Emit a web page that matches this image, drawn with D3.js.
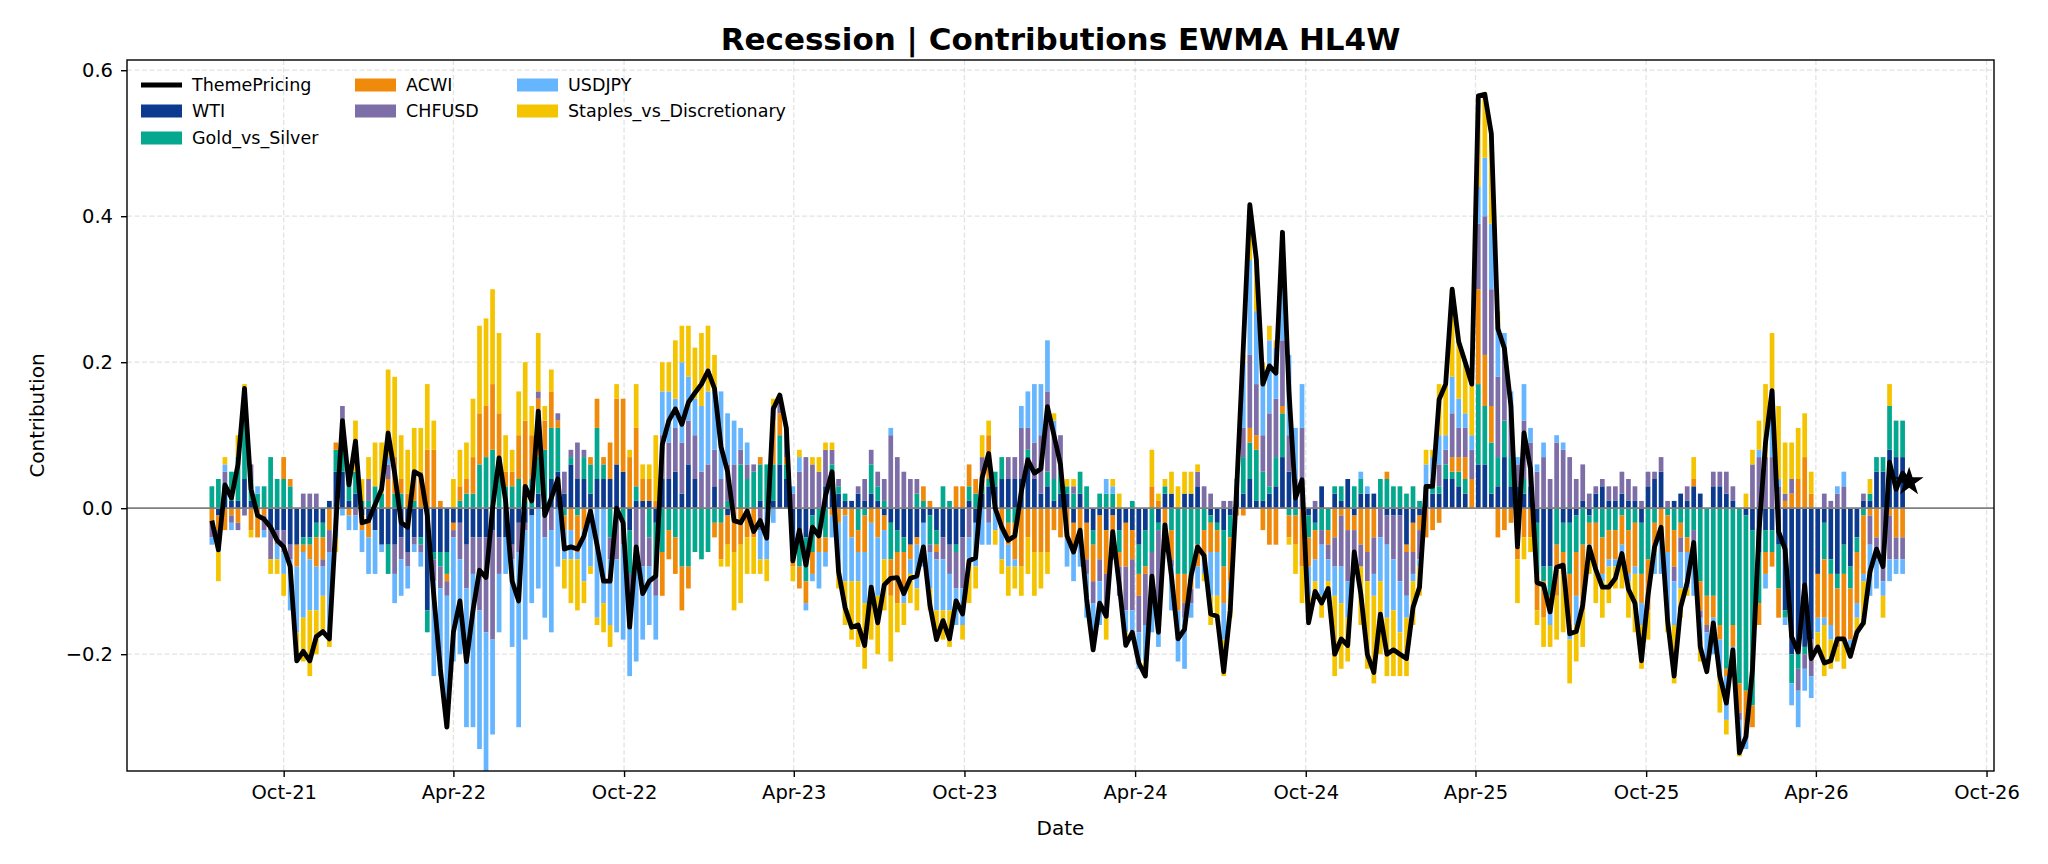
<!DOCTYPE html>
<html>
<head>
<meta charset="utf-8">
<script src="https://cdn.jsdelivr.net/npm/d3@7"></script>
<style>
  body { margin: 0; background: #fff; }
  svg { display: block; font-family: "DejaVu Sans", sans-serif; }
</style>
</head>
<body>
<div id="chart"></div>
<script>
// weekly observations, first one on this Friday
const startDate = "2021-07-16";

const seriesNames = ["WTI", "Gold_vs_Silver", "ACWI", "CHFUSD", "USDJPY", "Staples_vs_Discretionary"];
const seriesColors = ["#0c3a8e", "#04a88e", "#f08a0b", "#7e6ea8", "#66b5ff", "#f5c400"];

const tickMonths = ["2021-10-01", "2022-04-01", "2022-10-01", "2023-04-01", "2023-10-01", "2024-04-01",
  "2024-10-01", "2025-04-01", "2025-10-01", "2026-04-01", "2026-10-01"];
const yTicks = [-0.2, 0.0, 0.2, 0.4, 0.6];

const wti = [
  0, -0.01, 0.02, 0.01, 0.01, 0.04, 0.01, 0, 0, -0.03,
  -0.03, -0.03, -0.05, -0.05, -0.04, -0.04, -0.02, -0.02, 0.01, 0.05,
  0.05, 0.01, 0.02, -0.01, -0.02, -0.03, -0.05, -0.05, -0.05, -0.04,
  -0.06, -0.04, -0.04, -0.14, -0.06, -0.06, -0.06, -0.02, -0.02, -0.05,
  -0.04, -0.04, -0.04, -0.03, -0.04, -0.04, -0.05, -0.02, -0.02, -0.01,
  0.02, 0, 0.04, 0.05, 0.02, 0.06, 0.04, 0.04, 0.02, 0.04,
  0.04, 0.04, 0.06, 0.05, -0.03, 0.01, 0.01, 0.01, -0.02, 0.04,
  0.04, 0.05, 0.02, 0.06, 0.04, 0, 0, 0.03, 0, -0.01,
  0, 0, 0, 0, 0.01, 0, 0.01, 0.06, 0.04, -0.06,
  -0.04, -0.04, -0.01, 0, 0.03, 0.05, 0.02, 0.01, 0.01, 0.02,
  0.01, 0.02, 0.01, -0.01, -0.02, -0.03, -0.04, -0.05, -0.04, -0.02,
  -0.01, -0.03, -0.04, -0.05, -0.05, -0.04, 0.01, -0.02, 0.02, 0.03,
  0.03, 0.04, 0.04, 0.04, 0.04, 0.07, 0.04, 0.02, 0.03, 0.01,
  0.02, 0.02, -0.02, 0.02, -0.02, -0.03, -0.01, -0.03, -0.01, -0.03,
  -0.02, -0.03, -0.05, -0.03, 0, -0.02, 0.02, 0.02, 0, 0.02,
  0.02, 0.03, 0, -0.01, -0.02, -0.03, -0.01, 0.03, 0.02, 0.04,
  0.01, 0.01, 0.02, 0.03, 0.07, 0.05, 0.02, 0, -0.01, -0.02,
  0.03, 0, 0.02, 0.01, 0.04, -0.01, 0.02, 0.02, 0.02, 0,
  -0.01, -0.01, -0.01, -0.05, -0.02, -0.01, 0.03, 0.02, 0.02, 0.04,
  0.04, 0.03, 0.02, 0, 0.06, 0.06, 0.02, 0.03, 0.07, 0.03,
  0.03, 0.02, 0.03, -0.02, -0.08, -0.08, 0, -0.02, -0.02, -0.01,
  0.01, -0.01, 0.02, 0.03, 0.01, 0.01, 0.02, 0.01, 0.01, -0.02,
  0.03, 0.04, 0.05, 0, 0.01, 0.02, 0.01, 0.03, 0.02, 0,
  0.03, 0.03, 0.02, 0.01, 0, -0.01, -0.03, -0.06, -0.03, -0.03,
  -0.05, -0.14, -0.20, -0.20, -0.19, -0.18, -0.09, -0.02, -0.07, -0.09,
  -0.05, -0.08, -0.04, 0.01, 0.01, 0.05, 0.05, 0.08, 0.07, 0.07
];

const goldSilver = [
  0.03, 0.04, 0.01, 0.04, 0.06, 0.12, 0.03, 0.02, 0.03, 0.07,
  0.04, 0.04, 0.03, 0, -0.01, -0.01, -0.02, -0.02, 0, 0.03,
  0.05, 0.05, 0.03, 0.01, 0.01, 0.03, 0.02, -0.04, 0.02, 0.02,
  0, 0.01, -0.01, -0.03, -0.01, -0.02, -0.03, 0, 0.01, 0.02,
  0.02, 0.06, 0.07, 0.08, 0.07, 0.03, 0.03, 0.04, 0.01, 0.04,
  0.05, 0.08, 0.07, 0.06, -0.01, 0.01, -0.01, 0.03, 0.04, 0.07,
  0.02, -0.04, 0, -0.03, -0.06, 0.02, 0, -0.04, -0.06, -0.06,
  -0.03, -0.04, -0.08, -0.08, -0.06, -0.07, -0.06, -0.02, -0.02, 0.01,
  0, 0.06, 0.04, 0.05, 0.05, 0.06, 0.05, 0.04, 0.02, 0,
  -0.04, -0.06, -0.05, -0.04, -0.04, 0.01, 0.01, 0.01, 0, -0.03,
  -0.01, 0.04, 0.02, 0.01, -0.05, -0.03, -0.02, 0, 0.02, 0.01,
  -0.04, -0.02, 0.03, 0.01, -0.01, 0, 0.02, 0.02, 0.01, 0.01,
  0.02, 0.03, -0.02, -0.02, 0, 0.01, 0, 0, 0.02, 0.03,
  0.03, 0.01, 0.02, 0.03, 0.03, -0.02, 0.02, 0.02, 0.02, -0.03,
  0, 0.01, -0.04, -0.05, -0.06, -0.01, 0.01, -0.03, -0.09, -0.09,
  -0.09, -0.05, -0.03, -0.01, -0.01, -0.05, -0.03, 0.01, 0.05, 0.05,
  0.07, 0.04, 0.01, 0.04, 0.06, -0.01, -0.01, 0, -0.03, -0.01,
  -0.03, -0.03, 0.01, 0.02, 0, 0.03, 0.02, 0, 0, 0.04,
  0.04, 0.03, 0.03, 0.02, 0.03, 0.01, 0, 0.01, 0.01, 0.02,
  0.01, 0.02, 0.02, 0, 0.11, 0.08, 0.07, 0.04, 0.05, 0.04,
  0, 0.02, 0, -0.07, -0.02, -0.04, -0.05, -0.04, -0.07, -0.05,
  -0.05, -0.01, -0.02, -0.04, -0.03, -0.03, -0.01, -0.03, -0.02, -0.07,
  -0.07, -0.02, 0, -0.01, -0.03, -0.02, -0.04, -0.03, -0.10, -0.12,
  -0.12, -0.16, -0.22, -0.16, -0.24, -0.24, -0.24, -0.07, -0.03, -0.03,
  -0.06, -0.01, -0.04, -0.02, -0.01, 0, 0, -0.05, -0.02, -0.02,
  -0.04, -0.03, -0.02, -0.01, 0.01, 0.02, 0.02, 0.06, 0.05, 0.05
];

const acwi = [
  -0.02, -0.02, -0.03, -0.01, -0.02, 0, -0.03, -0.04, -0.01, 0,
  0, 0.03, 0.01, -0.03, -0.01, -0.02, -0.04, -0.03, -0.03, 0.01,
  0.02, -0.01, 0, -0.02, -0.02, 0, 0, 0.04, 0.05, 0.02,
  0.02, 0.04, 0.05, 0.08, 0.08, 0.01, -0.01, -0.01, 0.02, 0.02,
  0.05, 0.07, 0.07, 0.09, 0.06, 0.02, 0.02, 0.06, 0.11, 0.06,
  0.08, 0.04, 0.05, 0.01, -0.02, -0.03, -0.05, -0.03, 0.01, 0.04,
  0.01, 0.05, 0.09, 0.10, 0.07, 0.08, 0.03, 0.03, 0.01, -0.06,
  -0.04, -0.05, -0.06, -0.03, 0, 0, 0, -0.02, -0.05, -0.04,
  -0.06, -0.05, -0.04, -0.04, 0.01, 0, 0.06, 0.03, 0.01, -0.02,
  -0.03, -0.03, -0.03, -0.02, -0.02, -0.01, -0.02, -0.01, -0.04, -0.03,
  -0.05, -0.02, -0.04, -0.02, -0.05, -0.07, -0.05, -0.02, -0.01, 0.02,
  0.01, -0.01, 0, 0, 0.03, 0.03, 0.03, 0.02, 0.02, 0.06,
  0, -0.03, -0.03, -0.05, -0.08, -0.04, -0.06, -0.06, -0.06, -0.03,
  -0.04, -0.04, -0.04, -0.05, -0.05, -0.05, -0.06, -0.06, -0.04, -0.02,
  -0.06, -0.04, -0.03, -0.01, 0.03, 0.01, -0.02, -0.04, -0.05, -0.04,
  -0.02, -0.03, -0.04, -0.04, -0.03, -0.05, -0.06, -0.01, -0.01, 0.02,
  0.02, -0.03, -0.05, -0.05, 0.01, -0.03, -0.04, -0.08, -0.04, -0.04,
  0, -0.02, -0.04, -0.01, -0.03, -0.02, -0.05, -0.06, -0.04, 0,
  0.01, 0, 0, -0.01, -0.04, -0.02, -0.04, -0.03, -0.02, 0,
  0.02, 0.02, 0.03, 0.04, 0.13, 0.07, 0.05, -0.04, -0.03, -0.02,
  -0.07, -0.04, -0.04, -0.05, -0.05, -0.02, -0.07, -0.03, -0.08, -0.06,
  -0.09, -0.03, -0.06, -0.05, -0.04, -0.04, -0.04, -0.06, -0.06, -0.04,
  -0.07, -0.04, -0.03, -0.05, -0.05, -0.02, -0.02, 0.01, -0.04, -0.04,
  -0.03, -0.02, -0.01, -0.03, -0.04, -0.06, -0.03, -0.03, -0.03, -0.02,
  -0.04, 0.01, 0.02, 0.04, 0.07, 0.02, -0.06, -0.08, -0.07, -0.08,
  -0.09, -0.07, -0.07, -0.08, -0.01, -0.04, 0, -0.01, -0.04, -0.04
];

const chfusd = [
  -0.02, -0.02, 0.02, -0.01, -0.01, -0.01, 0.02, 0, -0.02, -0.04,
  -0.02, -0.03, -0.02, 0, 0.02, 0.02, 0.02, -0.01, -0.03, -0.03,
  0.02, 0, -0.01, 0, 0.03, 0, 0, 0.02, -0.04, -0.03,
  -0.02, -0.01, -0.01, 0, -0.03, -0.03, -0.02, -0.01, -0.05, -0.06,
  -0.05, -0.10, -0.13, -0.15, -0.05, 0, -0.02, -0.04, -0.01, 0,
  0.01, -0.04, -0.03, 0.01, 0.03, 0.01, 0.05, 0.01, -0.01, 0,
  0, -0.03, -0.07, -0.02, -0.06, -0.08, -0.08, -0.04, -0.04, 0.06,
  0.05, 0.06, 0.07, 0.06, 0.06, 0.05, 0.06, 0.05, 0.04, 0.05,
  0.06, 0.02, 0.02, 0.01, -0.03, 0, 0.02, 0.02, 0.03, 0.02,
  0.05, 0.07, 0.06, 0.05, 0.05, 0.02, 0.01, 0, 0, 0.01,
  0.03, 0.02, 0.02, 0.03, 0.10, 0.07, 0.05, 0.04, 0.02, 0,
  -0.01, -0.01, -0.03, -0.04, -0.05, -0.07, -0.04, 0, 0.02, -0.02,
  0, 0, 0.03, 0.03, 0.07, 0.03, 0.05, 0.08, 0.11, 0.06,
  0.05, 0, 0.01, 0, -0.02, -0.03, -0.03, -0.06, -0.02, -0.04,
  -0.06, -0.07, -0.05, -0.07, -0.04, -0.11, -0.04, -0.01, 0, -0.02,
  -0.02, 0.02, 0.03, 0.02, 0, 0.01, 0.01, 0, 0.04, 0.10,
  0.07, 0.05, 0.10, 0.08, 0.09, 0.05, 0.02, 0.11, 0, 0.01,
  -0.02, -0.02, -0.04, -0.07, -0.07, -0.05, -0.03, -0.04, -0.05, -0.04,
  -0.04, -0.06, -0.09, -0.06, -0.03, -0.04, 0, 0.01, 0.03, 0.02,
  0.06, 0.04, 0.04, 0.04, 0.09, 0.19, 0.16, 0.11, 0.10, 0.06,
  0.03, 0.08, 0.06, 0.05, 0.07, 0.04, 0.09, 0.08, 0.07, 0.04,
  0.05, 0.02, 0.01, 0.01, 0.02, 0.02, 0.03, 0.03, 0.02, 0.01,
  0.02, 0.01, 0.02, 0.01, -0.02, -0.02, 0.02, -0.02, -0.01, -0.01,
  0.02, 0.02, 0.03, 0.02, -0.01, 0, 0.06, 0.07, 0.07, 0.07,
  0.03, 0.01, 0.02, -0.03, -0.02, -0.05, 0, 0.02, 0.01, 0.02,
  0.03, 0, 0, 0.01, -0.04, -0.03, -0.10, -0.06, -0.03, -0.03
];

const usdjpy = [
  -0.01, -0.01, 0.01, -0.01, 0, 0, 0, 0.01, -0.01, 0,
  -0.02, -0.03, -0.07, -0.09, -0.09, -0.07, -0.06, -0.04, -0.12, -0.01,
  -0.01, -0.02, -0.02, -0.03, -0.05, -0.06, -0.01, 0.01, -0.04, -0.05,
  -0.03, -0.01, -0.02, 0, -0.13, -0.12, -0.17, -0.17, -0.13, -0.19,
  -0.21, -0.19, -0.19, -0.13, -0.08, -0.05, -0.12, -0.24, -0.15, -0.12,
  -0.11, -0.11, -0.14, -0.08, -0.04, -0.04, -0.01, -0.07, -0.07, -0.15,
  -0.13, -0.09, -0.10, -0.13, -0.08, -0.13, -0.10, -0.08, -0.06, 0.06,
  0.07, 0.04, 0.11, 0.06, 0.05, 0.09, 0.10, 0.08, 0.12, 0.07,
  0.06, 0.03, 0.03, 0, -0.04, -0.07, -0.02, 0, 0.01, 0.01,
  0.02, -0.01, -0.01, -0.05, -0.02, -0.03, -0.06, -0.09, -0.06, -0.04,
  -0.07, -0.11, -0.08, -0.04, 0.01, 0, -0.02, -0.02, -0.06, -0.06,
  -0.05, -0.07, -0.07, -0.05, -0.05, -0.05, -0.03, -0.06, -0.05, -0.03,
  -0.03, -0.04, -0.03, -0.01, 0.03, 0.05, 0.08, 0.07, 0.07, 0.02,
  0, -0.04, -0.04, -0.03, -0.06, -0.04, -0.06, 0.02, 0.01, 0,
  -0.03, -0.03, -0.05, -0.05, -0.07, -0.05, 0, -0.06, -0.07, -0.07,
  -0.02, -0.03, -0.02, -0.06, -0.06, -0.05, -0.02, 0, 0.09, 0.13,
  0.10, 0.09, 0.10, 0.07, 0.15, 0.11, 0.07, 0.06, -0.04, -0.03,
  -0.07, -0.03, -0.04, -0.05, -0.05, -0.01, 0.01, 0.01, -0.03, -0.06,
  -0.10, -0.07, -0.07, -0.03, -0.01, -0.01, 0.03, 0.03, 0.04, 0.02,
  0.05, 0.04, 0.02, 0.02, 0.05, 0.08, 0.09, 0.07, 0.02, 0.03,
  0.01, 0.05, 0.02, 0.01, 0.02, -0.02, 0.01, 0.01, -0.01, -0.04,
  0, -0.02, 0, -0.01, -0.01, -0.01, -0.01, -0.01, -0.01, -0.03,
  0, -0.03, -0.06, -0.09, -0.06, -0.05, -0.05, -0.07, -0.03, -0.04,
  -0.05, -0.05, -0.06, -0.03, -0.04, -0.02, 0, 0.01, -0.02, 0.09,
  0.01, -0.01, -0.03, -0.05, -0.03, -0.03, -0.02, -0.01, -0.02, 0.01,
  0.02, -0.01, -0.02, -0.01, -0.07, -0.04, -0.02, -0.03, -0.02, -0.02
];

const staplesVsDiscretionary = [
  0, -0.04, 0.01, 0, 0.03, 0.01, -0.01, 0, 0, -0.02,
  -0.02, -0.03, 0, -0.03, -0.06, -0.09, -0.06, -0.05, -0.01, -0.02,
  0, 0, 0.07, 0.03, 0.03, 0.06, 0.07, 0.12, 0.11, 0.06,
  0.06, 0.06, 0.06, 0.09, 0.04, 0, -0.01, 0.04, 0.05, 0.05,
  0.08, 0.12, 0.12, 0.13, 0.11, 0.05, 0.03, 0.06, 0.08, 0.04,
  0.08, 0.02, 0.03, 0, -0.04, -0.06, -0.07, -0.03, -0.01, -0.01,
  -0.04, -0.03, 0.02, 0, 0.01, 0.06, 0.02, 0.02, 0.09, 0.04,
  0.04, 0.08, 0.05, 0.07, 0.07, 0.10, 0.09, 0.05, -0.01, -0.03,
  -0.08, -0.08, -0.05, -0.05, -0.02, -0.03, 0.01, 0, 0, -0.02,
  0.01, 0, 0.01, 0.02, 0.01, 0.01, -0.03, -0.06, -0.08, -0.09,
  -0.09, -0.05, -0.08, -0.07, -0.09, -0.04, -0.03, -0.04, -0.03, 0,
  -0.03, -0.04, -0.04, -0.05, 0, -0.02, -0.06, -0.03, 0.03, 0.02,
  -0.02, -0.02, -0.04, -0.03, -0.04, -0.05, -0.06, -0.05, -0.03, 0.01,
  0, 0.01, 0.01, 0, 0, -0.02, 0, -0.03, 0.01, 0.02,
  -0.01, 0, 0, -0.02, 0.05, 0.01, 0.01, 0.03, 0.03, 0.03,
  0.03, 0.01, -0.01, -0.04, -0.03, -0.05, -0.03, 0, 0.01, 0.07,
  0.07, 0.01, 0.02, 0.01, 0, -0.01, -0.04, -0.05, -0.03, -0.02,
  -0.03, -0.01, -0.11, -0.09, -0.06, 0, -0.08, -0.12, -0.12, -0.10,
  -0.08, -0.09, -0.06, -0.08, -0.06, -0.04, 0.02, 0.01, 0.07, 0.07,
  0.12, 0.08, 0.07, 0.07, 0.12, 0.09, 0.12, 0.02, 0, 0,
  -0.06, -0.03, -0.02, -0.02, -0.04, -0.03, -0.06, -0.08, -0.06, -0.05,
  -0.05, -0.02, -0.05, -0.05, -0.05, -0.03, -0.05, -0.05, -0.08, -0.06,
  -0.04, 0, 0, -0.02, -0.08, -0.04, -0.01, 0.03, -0.03, -0.01,
  0, -0.05, -0.02, 0, -0.01, 0.02, 0.02, 0.04, 0.10, 0.08,
  0.10, 0.07, 0.05, 0.07, 0.06, 0.03, -0.02, -0.07, -0.04, -0.02,
  -0.04, -0.01, -0.02, -0.06, 0.02, 0, -0.03, 0.03, 0, 0
];

// one more point than the bars: the last value carries the star marker
const themePricing = [
  -0.017, -0.057, 0.032, 0.014, 0.06, 0.164, 0.026, -0.01, -0.015, -0.026,
  -0.044, -0.053, -0.08, -0.209, -0.196, -0.209, -0.176, -0.169, -0.179, -0.02,
  0.12, 0.032, 0.092, -0.02, -0.017, 0.005, 0.026, 0.103, 0.048, -0.02,
  -0.026, 0.05, 0.045, -0.01, -0.12, -0.22, -0.30, -0.17, -0.127, -0.21,
  -0.14, -0.085, -0.095, 0.0, 0.069, 0.01, -0.10, -0.127, 0.03, 0.01,
  0.133, -0.01, 0.014, 0.04, -0.056, -0.053, -0.056, -0.038, -0.004, -0.05,
  -0.10, -0.10, 0.0, -0.02, -0.163, -0.053, -0.117, -0.10, -0.093, 0.087,
  0.12, 0.136, 0.115, 0.145, 0.158, 0.17, 0.188, 0.164, 0.084, 0.05,
  -0.017, -0.02, -0.004, -0.032, -0.017, -0.041, 0.136, 0.155, 0.11, -0.072,
  -0.03, -0.078, -0.026, -0.038, 0.017, 0.05, -0.087, -0.136, -0.163, -0.16,
  -0.188, -0.108, -0.157, -0.105, -0.096, -0.095, -0.117, -0.096, -0.093, -0.053,
  -0.133, -0.18, -0.154, -0.179, -0.127, -0.145, -0.072, -0.068, 0.042, 0.075,
  0.0, -0.026, -0.044, -0.038, 0.023, 0.066, 0.048, 0.054, 0.139, 0.10,
  0.06, -0.038, -0.06, -0.03, -0.124, -0.194, -0.13, -0.148, -0.032, -0.105,
  -0.188, -0.17, -0.212, -0.23, -0.093, -0.17, -0.023, -0.093, -0.179, -0.166,
  -0.093, -0.053, -0.065, -0.145, -0.148, -0.224, -0.14, 0.03, 0.22, 0.416,
  0.341, 0.17, 0.195, 0.185, 0.378, 0.16, 0.014, 0.039, -0.157, -0.114,
  -0.13, -0.11, -0.20, -0.179, -0.188, -0.06, -0.117, -0.20, -0.225, -0.145,
  -0.20, -0.194, -0.20, -0.206, -0.136, -0.108, 0.03, 0.03, 0.149, 0.17,
  0.30, 0.228, 0.20, 0.17, 0.565, 0.567, 0.513, 0.246, 0.219, 0.14,
  -0.053, 0.103, 0.054, -0.102, -0.105, -0.142, -0.081, -0.078, -0.172, -0.169,
  -0.133, -0.053, -0.084, -0.108, -0.108, -0.096, -0.062, -0.111, -0.13, -0.209,
  -0.12, -0.053, -0.026, -0.154, -0.23, -0.136, -0.102, -0.047, -0.19, -0.224,
  -0.157, -0.23, -0.267, -0.194, -0.335, -0.313, -0.221, -0.032, 0.09, 0.161,
  -0.032, -0.056, -0.176, -0.197, -0.105, -0.206, -0.19, -0.212, -0.209, -0.179,
  -0.179, -0.203, -0.17, -0.157, -0.087, -0.056, -0.08, 0.063, 0.026, 0.048,
  0.036
];

const W = 2048, H = 864;
const margin = { top: 60, right: 54, bottom: 93, left: 127 };
const width = W - margin.left - margin.right;
const height = H - margin.top - margin.bottom;

const svg = d3.select("#chart").append("svg")
  .attr("width", W)
  .attr("height", H);

const g = svg.append("g")
  .attr("transform", `translate(${margin.left},${margin.top})`);

const parseDate = d3.utcParse("%Y-%m-%d");
const start = parseDate(startDate);
const dates = themePricing.map((_, i) => d3.utcDay.offset(start, 7 * i));

const seriesValues = [wti, goldSilver, acwi, chfusd, usdjpy, staplesVsDiscretionary];
const rows = wti.map((_, i) => {
  const r = { date: dates[i] };
  seriesNames.forEach((k, j) => { r[k] = seriesValues[j][i]; });
  return r;
});

// scales (5% padding on the dates like the original)
const x = d3.scaleUtc()
  .domain([d3.utcDay.offset(dates[0], -91), d3.utcDay.offset(dates[dates.length - 1], 91)])
  .range([0, width]);

const y = d3.scaleLinear()
  .domain([-0.36, 0.614])
  .range([height, 0]);

const tickDates = tickMonths.map(parseDate);

// grid
const grid = g.append("g")
  .attr("stroke", "#b0b0b0")
  .attr("stroke-opacity", 0.35)
  .attr("stroke-width", 1.3)
  .attr("stroke-dasharray", "5,2.5");

grid.selectAll(".gx").data(tickDates).join("line")
  .attr("x1", d => x(d)).attr("x2", d => x(d))
  .attr("y1", 0).attr("y2", height);

grid.selectAll(".gy").data(yTicks).join("line")
  .attr("x1", 0).attr("x2", width)
  .attr("y1", d => y(d)).attr("y2", d => y(d));

svg.append("defs").append("clipPath").attr("id", "plot-clip")
  .append("rect").attr("width", width).attr("height", height);

// stacked contributions, positives up and negatives down
const stacked = d3.stack()
  .keys(seriesNames)
  .offset(d3.stackOffsetDiverging)(rows);

const barW = (x(dates[1]) - x(dates[0])) * 0.72;

g.append("g")
  .attr("clip-path", "url(#plot-clip)")
  .selectAll("g")
  .data(stacked)
  .join("g")
  .attr("fill", (d, i) => seriesColors[i])
  .selectAll("rect")
  .data(d => d)
  .join("rect")
  .attr("x", d => x(d.data.date) - barW / 2)
  .attr("y", d => y(Math.max(d[0], d[1])))
  .attr("width", barW)
  .attr("height", d => Math.abs(y(d[0]) - y(d[1])));

// zero line
g.append("line")
  .attr("x1", 0).attr("x2", width)
  .attr("y1", y(0)).attr("y2", y(0))
  .attr("stroke", "#808080")
  .attr("stroke-width", 1.8);

// ThemePricing line
const line = d3.line()
  .x((d, i) => x(dates[i]))
  .y(d => y(d));

g.append("path")
  .datum(themePricing)
  .attr("fill", "none")
  .attr("stroke", "#000")
  .attr("stroke-width", 4.8)
  .attr("stroke-linejoin", "round")
  .attr("d", line);

const last = themePricing.length - 1;
g.append("path")
  .attr("d", d3.symbol().type(d3.symbolStar).size(260)())
  .attr("transform", `translate(${x(dates[last])},${y(themePricing[last])})`)
  .attr("fill", "#000");

// axes
const xAxis = g.append("g")
  .attr("transform", `translate(0,${height})`)
  .call(d3.axisBottom(x)
    .tickValues(tickDates)
    .tickFormat(d3.utcFormat("%b-%y"))
    .tickSize(6)
    .tickPadding(8));

const yAxis = g.append("g")
  .call(d3.axisLeft(y)
    .tickValues(yTicks)
    .tickFormat(d => d3.format(".1f")(d).replace("-", "\u2212"))
    .tickSize(6)
    .tickPadding(8));

[xAxis, yAxis].forEach(a => {
  a.select(".domain").remove();
  a.selectAll(".tick line").attr("stroke", "#000").attr("stroke-width", 1.4);
  a.selectAll(".tick text")
    .attr("fill", "#000")
    .style("font-family", "DejaVu Sans")
    .style("font-size", "19.5px");
});

// spines
g.append("rect")
  .attr("width", width)
  .attr("height", height)
  .attr("fill", "none")
  .attr("stroke", "#000")
  .attr("stroke-width", 1.4);

// labels
svg.append("text")
  .attr("x", margin.left + width / 2)
  .attr("y", 50)
  .attr("text-anchor", "middle")
  .style("font-size", "31px")
  .style("font-weight", "bold")
  .text("Recession | Contributions EWMA HL4W");

svg.append("text")
  .attr("x", margin.left + width / 2)
  .attr("y", 835)
  .attr("text-anchor", "middle")
  .style("font-size", "20px")
  .text("Date");

svg.append("text")
  .attr("transform", `translate(44,${margin.top + height / 2}) rotate(-90)`)
  .attr("text-anchor", "middle")
  .style("font-size", "20px")
  .text("Contribution");

// legend
const legendItems = [
  { name: "ThemePricing", type: "line", col: 0, row: 0 },
  { name: "WTI", color: seriesColors[0], col: 0, row: 1 },
  { name: "Gold_vs_Silver", color: seriesColors[1], col: 0, row: 2 },
  { name: "ACWI", color: seriesColors[2], col: 1, row: 0 },
  { name: "CHFUSD", color: seriesColors[3], col: 1, row: 1 },
  { name: "USDJPY", color: seriesColors[4], col: 2, row: 0 },
  { name: "Staples_vs_Discretionary", color: seriesColors[5], col: 2, row: 1 }
];
const colX = [141, 355, 517];
const rowY = [85, 111, 138];

const legend = svg.append("g");
legendItems.forEach(it => {
  const lx = colX[it.col], ly = rowY[it.row];
  if (it.type === "line") {
    legend.append("line")
      .attr("x1", lx).attr("x2", lx + 41)
      .attr("y1", ly).attr("y2", ly)
      .attr("stroke", "#000").attr("stroke-width", 4.8);
  } else {
    legend.append("rect")
      .attr("x", lx).attr("y", ly - 6.5)
      .attr("width", 41).attr("height", 13)
      .attr("fill", it.color);
  }
  legend.append("text")
    .attr("x", lx + 51)
    .attr("y", ly + 6)
    .style("font-size", "17.5px")
    .text(it.name);
});
</script>
</body>
</html>
